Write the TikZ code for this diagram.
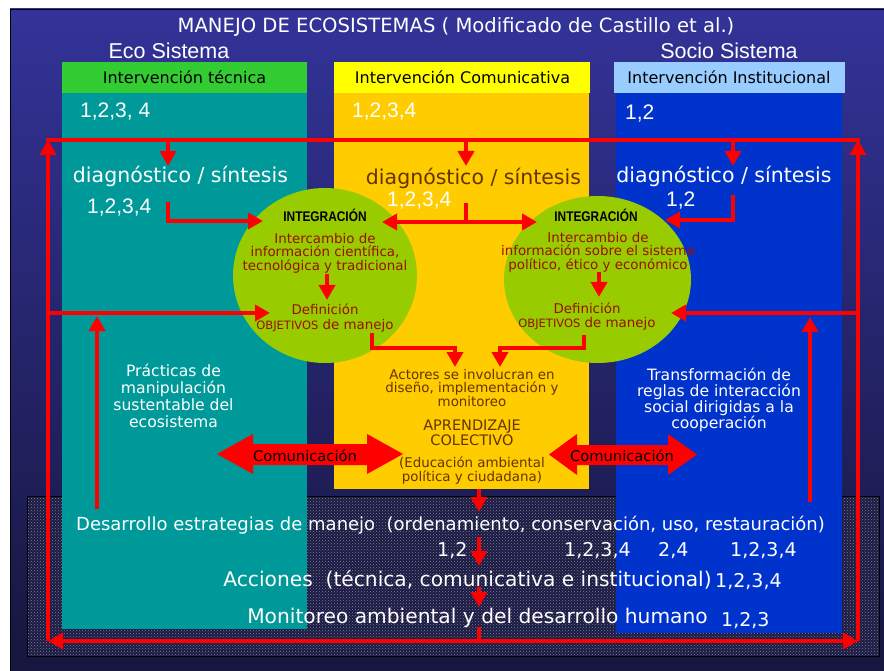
\documentclass[tikz,border=0pt]{standalone}
\usepackage{fontspec}
\setmainfont{Liberation Sans}
\newfontfamily\comic{DejaVu Sans}
\newfontfamily\narrowb[FakeStretch=0.85]{Liberation Sans}
\usetikzlibrary{arrows.meta, shapes.geometric, patterns}

\definecolor{bgtop}{RGB}{51,51,153}
\definecolor{bgbot}{RGB}{22,22,62}
\definecolor{bandbase}{RGB}{26,26,66}
\definecolor{bandot}{RGB}{125,125,160}
\definecolor{ecoteal}{RGB}{0,153,153}
\definecolor{ecogreen}{RGB}{51,204,51}
\definecolor{comyellow}{RGB}{255,255,0}
\definecolor{comorange}{RGB}{255,204,0}
\definecolor{socblue}{RGB}{0,51,204}
\definecolor{soclight}{RGB}{153,204,255}
\definecolor{intgreen}{RGB}{153,204,0}
\definecolor{arrowred}{RGB}{255,0,0}
\definecolor{txtbrown}{RGB}{102,51,0}
\definecolor{txtmaroon}{RGB}{153,17,0}

\begin{document}
\begin{tikzpicture}[x=1pt, y=-1pt,
  redline/.style={draw=arrowred, line width=4.5pt},
  redarrow/.style={redline, -{Triangle[width=16pt,length=15pt]}},
  redboth/.style={redline, {Triangle[width=16pt,length=15pt]}-{Triangle[width=16pt,length=15pt]}},
  headtxt/.style={font=\comic\fontsize{16}{18}\selectfont, text=black, inner sep=0pt, anchor=base},
  systxt/.style={font=\fontsize{21.5}{24}\selectfont, text=white, inner sep=0pt, anchor=base},
  numtxt/.style={font=\fontsize{21}{24}\selectfont, text=white, inner sep=0pt, anchor=base west},
  diagtxt/.style={font=\comic\fontsize{20.5}{24}\selectfont, inner sep=0pt, anchor=base},
  integtxt/.style={font=\narrowb\bfseries\fontsize{14}{16}\selectfont, text=black, inner sep=0pt, anchor=base},
  elltxt/.style={font=\comic\fontsize{13.4}{14}\selectfont, text=txtmaroon, align=center, inner sep=0pt, anchor=base},
  midtxt/.style={font=\comic\fontsize{13.4}{13.8}\selectfont, text=txtbrown, align=center, inner sep=0pt, anchor=base},
  sidetxt/.style={font=\comic\fontsize{15.6}{16.7}\selectfont, text=white, align=center, inner sep=0pt, anchor=base},
  comtxt/.style={font=\comic\fontsize{14.7}{16}\selectfont, text=black, inner sep=0pt, anchor=base},
  bandtxt/.style={font=\comic\fontsize{18}{20}\selectfont, text=white, inner sep=0pt, anchor=base},
  bandnum/.style={font=\comic\fontsize{19}{20}\selectfont, text=white, inner sep=0pt, anchor=base west},
  integ/.style={ellipse, fill=intgreen, inner sep=0pt}]

\useasboundingbox (0,0) rectangle (884,671);

% slide and dotted band
\shade[top color=bgtop, bottom color=bgbot] (10,9) rectangle (884,671);
\draw[black, line width=0.8pt] (884,9) -- (10,9) -- (10,671);
\fill[bandbase] (27,496) rectangle (879,656);
\fill[pattern=crosshatch dots, pattern color=bandot] (27,496) rectangle (879,656);
\draw[black, line width=0.8pt] (27,496) rectangle (879,656);

% the three columns
\fill[ecoteal] (62,93) rectangle (307,629);
\fill[ecogreen] (62,62) rectangle (307,93);
\fill[comorange] (334,93) rectangle (589,489);
\fill[comyellow] (334,62) rectangle (590,93);
\fill[socblue] (616,93) rectangle (842,633);
\fill[soclight] (614,62) rectangle (845,93);

\node[integ, minimum width=184pt, minimum height=175pt] (intL) at (325,275.5) {};
\node[integ, minimum width=187pt, minimum height=167pt] (intR) at (597.5,279.5) {};

\node[font=\comic\fontsize{19.6}{22}\selectfont, text=white, inner sep=0pt, anchor=base] (title) at (456,33)
  {MANEJO DE ECOSISTEMAS ( Modificado de Castillo et al.)};
\node[systxt] (eco) at (169,59) {Eco Sistema};
\node[systxt] (socio) at (729,59) {Socio Sistema};

\node[headtxt] (hTec) at (184.5,84) {Intervención técnica};
\node[headtxt] (hCom) at (462.5,84) {Intervención Comunicativa};
\node[headtxt] (hIns) at (729,84) {Intervención Institucional};

\node[numtxt] (nTec) at (80,118) {1,2,3, 4};
\node[numtxt] (nCom) at (352,118) {1,2,3,4};
\node[numtxt] (nIns) at (625,120) {1,2};

\node[diagtxt, text=white] (dTec) at (180.5,183) {diagnóstico / síntesis};
\node[diagtxt, text=txtbrown] (dCom) at (473.5,185) {diagnóstico / síntesis};
\node[diagtxt, text=white] (dIns) at (724,183) {diagnóstico / síntesis};
\node[numtxt] (ndTec) at (87,214) {1,2,3,4};
\node[numtxt] (ndCom) at (387,207) {1,2,3,4};
\node[numtxt] (ndIns) at (666,207) {1,2};

% inside the integration ellipses (base = last line)
\node[integtxt] (igL) at (325,222) {INTEGRACIÓN};
\node[elltxt] (icL) at (325,271) {Intercambio de\\información científica,\\tecnológica y tradicional};
\node[elltxt] (dfL) at (325,329) {Definición\\{\fontsize{11.5}{14}\selectfont OBJETIVOS} de manejo};
\node[integtxt] (igR) at (596,222) {INTEGRACIÓN};
\node[elltxt] (icR) at (598,270) {Intercambio de\\información sobre el sistema\\político, ético y económico};
\node[elltxt] (dfR) at (587,327) {Definición\\{\fontsize{11.5}{14}\selectfont OBJETIVOS} de manejo};

\node[midtxt] (actores) at (472,406.7) {Actores se involucran en\\diseño, implementación y\\monitoreo};
\node[midtxt, font=\comic\fontsize{14.5}{13.3}\selectfont] (aprend) at (472,445) {APRENDIZAJE\\COLECTIVO};
\node[midtxt] (educ) at (472,481.7) {(Educación ambiental\\política y ciudadana)};

\node[sidetxt] (prac) at (173.5,427) {Prácticas de\\manipulación\\sustentable del\\ecosistema};
\node[sidetxt, font=\comic\fontsize{15.6}{15.9}\selectfont] (transf) at (719,428.3) {Transformación de\\reglas de interacción\\social dirigidas a la\\cooperación};

% Comunicacion double arrows
\fill[arrowred] (217,454) -- (253,434) -- (253,444) -- (367,444) -- (367,434) -- (403,454)
  -- (367,474) -- (367,465) -- (253,465) -- (253,474) -- cycle;
\fill[arrowred] (549,454.5) -- (577,434) -- (577,445) -- (668,445) -- (668,434) -- (697,454.5)
  -- (668,475) -- (668,465) -- (577,465) -- (577,475) -- cycle;
\node[comtxt] (comL) at (305,461) {Comunicación};
\node[comtxt] (comR) at (622,461.5) {Comunicación};

% bottom band
\node[bandtxt] (estr) at (450.5,530) {Desarrollo estrategias de manejo\ \ (ordenamiento, conservación, uso, restauración)};
\node[bandnum] (e1) at (437,556) {1,2};
\node[bandnum] (e2) at (564,556) {1,2,3,4};
\node[bandnum] (e3) at (658,556) {2,4};
\node[bandnum] (e4) at (730,556) {1,2,3,4};
\node[bandtxt, font=\comic\fontsize{20.2}{22}\selectfont] (acc) at (467.5,586) {Acciones\ \ (técnica, comunicativa e institucional)};
\node[bandnum] (a1) at (715,587) {1,2,3,4};
\node[bandtxt, font=\comic\fontsize{20.2}{22}\selectfont] (mon) at (477.5,623) {Monitoreo ambiental y del desarrollo humano};
\node[bandnum] (m1) at (721,626) {1,2,3};

% red frame
\coordinate (TL) at (48,140);
\coordinate (TR) at (858,140);
\coordinate (BL) at (48,641);
\coordinate (BR) at (858,641);
\coordinate (BC) at (479,641);
\draw[redline, line cap=rect] (TL) -- (TR);
\draw[redarrow] (BL) -- (TL);
\draw[redarrow] (BR) -- (TR);
\draw[redarrow] (BC) -- (BL);
\draw[redarrow] (BC) -- (BR);

% into diagnostico
\draw[redarrow] (168,140) -- (168,166);
\draw[redarrow] (466,140) -- (466,166);
\draw[redarrow] (733,140) -- (733,166);

% into the ellipses
\coordinate (sgL) at (168,202);
\coordinate (inL) at (263,221);
\coordinate (sgM) at (466,203);
\coordinate (jM) at (466,222);
\coordinate (inML) at (382,222);
\coordinate (inMR) at (537,222);
\coordinate (sgR) at (733,195);
\coordinate (inR) at (665,220);
\draw[redarrow] (sgL) |- (inL);
\draw[redline] (sgM) -- (jM);
\draw[redboth] (inML) -- (inMR);
\draw[redarrow] (sgR) |- (inR);

\draw[redarrow] (327,274) -- (327,300);
\draw[redarrow] (599,272) -- (599,297);

% from the sides
\coordinate (sdL) at (48,313);
\coordinate (obL) at (270,313);
\coordinate (prL) at (97,509);
\coordinate (prLt) at (97,316);
\coordinate (sdR) at (858,313);
\coordinate (obR) at (671,313);
\coordinate (prR) at (810,502);
\coordinate (prRt) at (810,317);
\draw[redarrow] (sdL) -- (obL);
\draw[redarrow] (prL) -- (prLt);
\draw[redarrow] (sdR) -- (obR);
\draw[redarrow] (prR) -- (prRt);

% objetivos to actores
\coordinate (dfLs) at (372,333);
\coordinate (jL) at (455,348);
\coordinate (acL) at (455,367);
\coordinate (dfRs) at (584,335);
\coordinate (jR) at (500,348);
\coordinate (acR) at (500,367);
\draw[redarrow] (dfLs) |- (jL) -- (acL);
\draw[redarrow] (dfRs) |- (jR) -- (acR);

% down the middle
\draw[redarrow] (479,489) -- (479,512);
\draw[redarrow] (479,537) -- (479,566);
\draw[redarrow] (479,587) -- (479,607);
\draw[redline] (479,627) -- (BC);

\end{tikzpicture}
\end{document}
